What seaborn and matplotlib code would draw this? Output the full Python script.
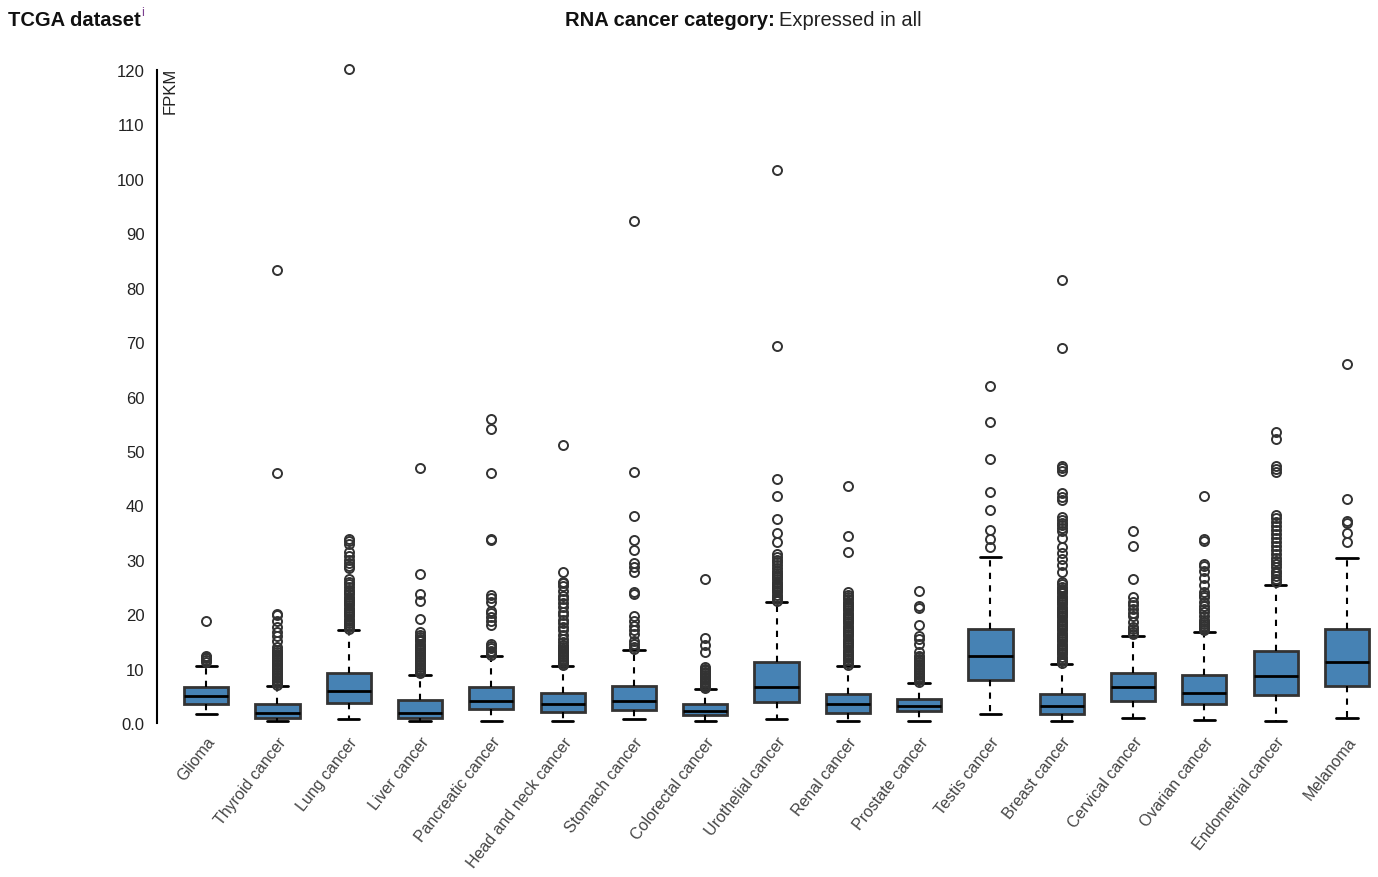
import numpy as np
import pandas as pd
import matplotlib
matplotlib.use("Agg")
import matplotlib.pyplot as plt
import seaborn as sns

# box statistics (FPKM)
categories = ["Glioma", "Thyroid cancer", "Lung cancer", "Liver cancer", "Pancreatic cancer",
              "Head and neck cancer", "Stomach cancer", "Colorectal cancer", "Urothelial cancer",
              "Renal cancer", "Prostate cancer", "Testis cancer", "Breast cancer",
              "Cervical cancer", "Ovarian cancer", "Endometrial cancer", "Melanoma"]
whis_lo = [1.65, 0.3, 0.7, 0.3, 0.3, 0.3, 0.7, 0.3, 0.7, 0.3, 0.3, 1.6, 0.3, 0.9, 0.6, 0.3, 0.9]
q1 = [3.5, 0.85, 3.75, 0.85, 2.6, 2.0, 2.3, 1.5, 3.8, 1.85, 2.15, 7.9, 1.6, 4.0, 3.55, 5.2, 6.75]
median = [5.0, 1.8, 5.8, 1.9, 4.1, 3.4, 4.0, 2.2, 6.55, 3.4, 3.2, 12.3, 3.1, 6.55, 5.6, 8.6, 11.15]
q3 = [6.67, 3.5, 9.1, 4.3, 6.7, 5.6, 6.8, 3.5, 11.3, 5.3, 4.4, 17.3, 5.4, 9.1, 8.9, 13.3, 17.3]
whis_hi = [10.5, 6.8, 17.0, 8.9, 12.4, 10.5, 13.4, 6.2, 22.2, 10.5, 7.4, 30.5, 10.8, 16.0, 16.7, 25.4, 30.4]

out_glioma = [11.3, 11.6, 11.9, 12.1, 12.4, 18.7]
out_thyroid = [7.0, 7.3, 7.6, 7.9, 8.2, 8.5, 8.8, 9.1, 9.4, 9.7, 10.0, 10.3, 10.6, 10.9, 11.2,
               11.5, 11.8, 12.1, 12.4, 12.7, 13.0, 13.4, 14.0, 15.1, 16.0, 16.8, 17.6, 18.8,
               19.8, 20.0, 46.0, 83.2]
out_lung = [17.2, 17.6, 18.0, 18.4, 18.8, 19.2, 19.6, 20.0, 20.4, 20.8, 21.2, 21.6, 22.0, 22.4,
            22.8, 23.2, 23.7, 24.1, 24.5, 25.0, 25.5, 26.0, 26.5, 28.4, 28.8, 29.4, 30.0, 30.7,
            31.5, 32.9, 33.4, 33.8, 120.2]
out_liver = [9.1, 9.4, 9.7, 10.0, 10.3, 10.6, 10.9, 11.2, 11.5, 11.8, 12.1, 12.4, 12.7, 13.0,
             13.4, 13.8, 14.2, 14.6, 15.0, 15.4, 15.8, 16.2, 16.7, 19.1, 22.5, 23.7, 27.4, 46.8]
out_pancreatic = [12.5, 12.8, 13.2, 13.7, 14.2, 14.6, 18.0, 18.8, 19.5, 20.2, 20.6, 22.3, 23.0,
                  23.6, 33.6, 33.9, 45.9, 54.0, 55.9]
out_headneck = [10.6, 10.9, 11.2, 11.5, 11.8, 12.1, 12.4, 12.7, 13.0, 13.3, 13.6, 14.0, 14.4,
                14.8, 15.5, 16.2, 17.0, 17.6, 18.3, 19.0, 19.8, 20.4, 21.3, 22.0, 22.8, 23.3,
                24.2, 25.2, 25.7, 26.0, 27.7, 51.1]
out_stomach = [13.6, 14.0, 14.5, 15.1, 16.4, 17.0, 17.9, 18.8, 19.7, 23.7, 24.1, 27.8, 28.6,
               29.4, 31.8, 33.6, 38.1, 46.2, 92.2]
out_colorectal = [6.4, 6.7, 7.0, 7.3, 7.6, 7.9, 8.2, 8.5, 8.8, 9.1, 9.4, 9.7, 10.0, 10.3,
                  13.1, 14.3, 15.6, 26.4]
out_urothelial = [22.4, 22.8, 23.2, 23.6, 24.0, 24.4, 24.8, 25.2, 25.6, 26.0, 26.4, 26.8, 27.2,
                  27.6, 28.0, 28.5, 29.0, 29.5, 30.0, 30.5, 31.0, 33.2, 34.9, 37.5, 41.8, 44.8,
                  69.2, 101.7]
out_renal = [10.7, 11.1, 11.5, 11.9, 12.3, 12.7, 13.1, 13.5, 13.9, 14.3, 14.7, 15.1, 15.5, 15.9,
             16.3, 16.7, 17.1, 17.5, 17.9, 18.3, 18.7, 19.1, 19.5, 19.9, 20.3, 20.7, 21.1, 21.5,
             21.9, 22.3, 22.7, 23.1, 23.6, 24.0, 31.5, 34.4, 43.6]
out_prostate = [7.6, 7.9, 8.2, 8.5, 8.8, 9.1, 9.4, 9.7, 10.0, 10.3, 10.6, 10.9, 11.2, 11.5,
                11.8, 12.1, 12.4, 13.0, 14.5, 15.4, 16.0, 18.1, 21.1, 21.5, 24.3]
out_testis = [32.3, 33.9, 35.5, 39.2, 42.4, 48.5, 55.4, 62.0]
out_breast = [11.0, 11.4, 11.8, 12.2, 12.6, 13.0, 13.4, 13.8, 14.2, 14.6, 15.0, 15.4, 15.8, 16.2,
              16.6, 17.0, 17.4, 17.8, 18.2, 18.6, 19.0, 19.4, 19.8, 20.2, 20.6, 21.0, 21.4,
              21.8, 22.2, 22.6, 23.0, 23.4, 23.8, 24.2, 24.6, 25.0, 25.5, 26.0, 27.8, 29.0,
              30.2, 31.2, 32.3, 34.0, 35.3, 35.8, 36.3, 36.8, 37.3, 37.8, 41.0, 41.6, 42.2,
              46.4, 46.8, 47.2, 69.0, 81.5]
out_cervical = [16.4, 16.8, 17.2, 17.6, 18.5, 19.7, 20.3, 21.0, 21.6, 22.2, 23.1, 26.4, 32.5, 35.3]
out_ovarian = [17.0, 17.4, 17.8, 18.2, 18.6, 19.0, 19.7, 20.4, 20.9, 21.5, 22.2, 23.1, 23.6,
               24.0, 25.4, 26.6, 27.9, 28.9, 29.2, 33.5, 33.8, 41.8]
out_endometrial = [26.0, 26.5, 27.0, 27.5, 28.0, 28.6, 29.2, 29.8, 30.4, 31.0, 31.8, 32.5, 33.2,
                   34.0, 34.8, 35.4, 36.2, 37.0, 37.6, 38.3, 46.1, 46.6, 47.2, 52.2, 53.5]
out_melanoma = [33.2, 34.9, 36.8, 37.2, 41.2, 66.0]

outliers = [out_glioma, out_thyroid, out_lung, out_liver, out_pancreatic, out_headneck,
            out_stomach, out_colorectal, out_urothelial, out_renal, out_prostate, out_testis,
            out_breast, out_cervical, out_ovarian, out_endometrial, out_melanoma]

sns.set_theme(style="white")
plt.rcParams["font.family"] = ["Liberation Sans", "DejaVu Sans"]

stats = []
for i, name in enumerate(categories):
    stats.append(dict(label=name, whislo=whis_lo[i], q1=q1[i], med=median[i], q3=q3[i],
                      whishi=whis_hi[i], fliers=np.array(outliers[i])))

fig = plt.figure(figsize=(13.78, 8.78), dpi=100)
ax = fig.add_axes([157 / 1378, 154 / 878, (1375.5 - 157) / 1378, 653 / 878])

res = ax.bxp(stats, positions=range(len(categories)), widths=0.62, capwidths=0.3,
             patch_artist=True, showfliers=True,
             boxprops=dict(facecolor="#4682b4", edgecolor="#333333", linewidth=2),
             medianprops=dict(color="black", linewidth=2),
             whiskerprops=dict(color="black", linewidth=1.5, linestyle=(0, (3, 3))),
             capprops=dict(color="black", linewidth=2),
             flierprops=dict(marker="o", markerfacecolor="none", markeredgecolor="#333333",
                             markersize=6.5, markeredgewidth=1.4))
for fl in res["fliers"]:
    fl.set_clip_on(False)

ax.set_ylim(0, 120)
ax.set_xlim(-0.69, 16.4)
ax.set_yticks(range(0, 121, 10))
ax.set_yticklabels(["0.0"] + [str(v) for v in range(10, 121, 10)], fontsize=12, color="#222222")
ax.set_xticks(range(len(categories)))
ax.set_xticklabels(categories, rotation=52, ha="right", rotation_mode="anchor",
                   fontsize=11.5, color="#444444")
ax.tick_params(axis="y", length=6, width=1.5, color="black", direction="out", pad=3)
ax.tick_params(axis="x", length=0, pad=8)
ax.set_xlabel("")
ax.set_ylabel("")
sns.despine(ax=ax, bottom=True)
ax.spines["left"].set_color("black")
ax.spines["left"].set_linewidth(1.5)

ax.text(0.011, 1.005, "FPKM", transform=ax.transAxes, rotation=90, ha="center", va="top",
        fontsize=12, color="#222222")

t0 = fig.text(8 / 1378, 1 - 20 / 878, "TCGA dataset", weight="bold", fontsize=14.5,
              va="center", color="#111111")
t1 = fig.text(565 / 1378, 1 - 20 / 878, "RNA cancer category:", weight="bold", fontsize=14.5,
              va="center", color="#111111")
fig.canvas.draw()
b0 = t0.get_window_extent()
fig.text((b0.x1 + 1) / 1378, 1 - 13 / 878, "i", fontsize=9, color="#7b3f8f", va="center")
bb = t1.get_window_extent()
fig.text((bb.x1 + 4) / 1378, 1 - 20 / 878, "Expressed in all", fontsize=14.5, va="center",
         color="#222222")

fig.savefig("out.png", dpi=100)
